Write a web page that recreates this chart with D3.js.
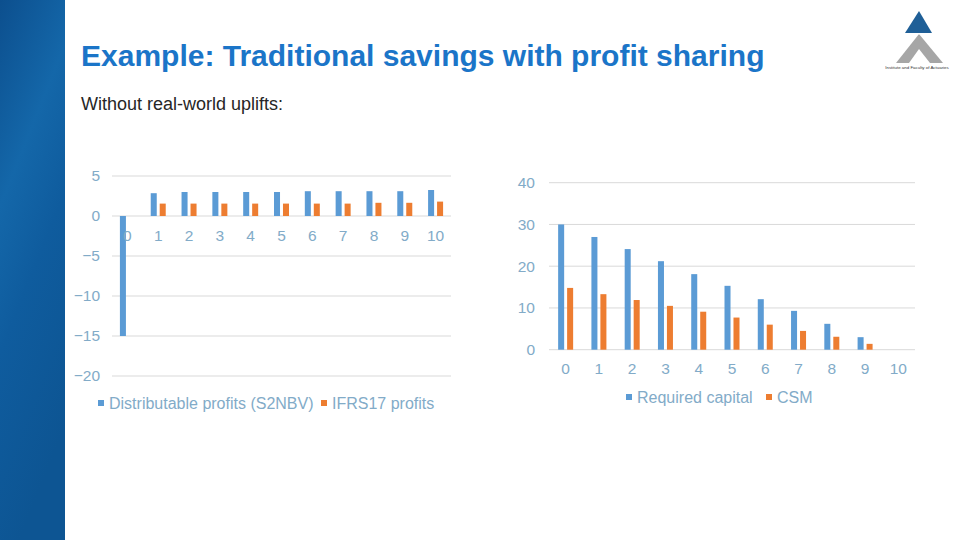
<!DOCTYPE html>
<html>
<head>
<meta charset="utf-8">
<script src="https://cdn.jsdelivr.net/npm/d3@7"></script>
<style>
  html, body { margin: 0; padding: 0; background: #fff; }
  svg { display: block; font-family: "Liberation Sans", Arial, sans-serif; }
</style>
</head>
<body>
<svg id="chart" width="960" height="540"></svg>
<script>
// ---------- data ----------
const years = ["0","1","2","3","4","5","6","7","8","9","10"];
const distributableProfits = [-15, 2.85, 3.0, 3.0, 3.0, 3.0, 3.1, 3.1, 3.1, 3.1, 3.25];
const ifrs17Profits        = [0, 1.55, 1.55, 1.55, 1.55, 1.55, 1.55, 1.55, 1.65, 1.65, 1.8];
const requiredCapital      = [30, 27, 24.1, 21.2, 18.1, 15.3, 12.1, 9.3, 6.2, 3.0, 0];
const csm                  = [14.8, 13.3, 11.9, 10.5, 9.1, 7.7, 6.0, 4.5, 3.1, 1.4, 0];
const leftTicks  = [5, 0, -5, -10, -15, -20];
const rightTicks = [0, 10, 20, 30, 40];
const leftSeriesNames  = ["Distributable profits (S2NBV)", "IFRS17 profits"];
const rightSeriesNames = ["Required capital", "CSM"];
const titleText = "Example: Traditional savings with profit sharing";
const subtitleText = "Without real-world uplifts:";

// ---------- styles ----------
const BLUE = "#5b9bd5", ORANGE = "#ed7d31", GRID = "#d9d9d9", LABEL = "#82abc8";
const svg = d3.select("#chart");

// sidebar gradient
const defs = svg.append("defs");
const grad = defs.append("linearGradient").attr("id", "side").attr("x1", 0).attr("y1", 0).attr("x2", 0.3).attr("y2", 1);
grad.append("stop").attr("offset", "0%").attr("stop-color", "#0c4f8e");
grad.append("stop").attr("offset", "35%").attr("stop-color", "#1467a9");
grad.append("stop").attr("offset", "60%").attr("stop-color", "#0f5c9e");
grad.append("stop").attr("offset", "100%").attr("stop-color", "#0d5593");
svg.append("rect").attr("x", 0).attr("y", 0).attr("width", 65).attr("height", 540).attr("fill", "url(#side)");

// title
svg.append("text").attr("x", 81).attr("y", 66).attr("font-size", 30).attr("font-weight", "bold")
  .attr("fill", "#1b75c8").text(titleText);
svg.append("text").attr("x", 81).attr("y", 110).attr("font-size", 18).attr("fill", "#262626").text(subtitleText);

// logo
const logo = svg.append("g");
logo.append("path").attr("d", "M896,63 L919,34 L943,63 Z").attr("fill", "#a6a6a6");
logo.append("path").attr("d", "M909,63 L919,49 L930,63 Z").attr("fill", "#fff");
logo.append("path").attr("d", "M899,53 A20,20 0 0 1 939,53").attr("fill", "none").attr("stroke", "#fff").attr("stroke-width", 2.5);
logo.append("path").attr("d", "M905,33 L919,11 L932,33 Z").attr("fill", "#1f5f97");
logo.append("text").attr("x", 917).attr("y", 69).attr("text-anchor", "middle").attr("font-size", 4.4)
  .attr("fill", "#333").text("Institute and Faculty of Actuaries");

// ---------- generic grouped bar chart ----------
function barChart(cfg) {
  const g = svg.append("g");
  const x = d3.scaleBand().domain(years).range([cfg.x0, cfg.x1]).paddingInner(0).paddingOuter(0);
  const y = d3.scaleLinear().domain(cfg.domain).range([cfg.yBottom, cfg.yTop]);
  const keys = [0, 1];
  const xs = d3.scaleBand().domain(keys).range([-7.5, 7.5]).paddingInner(0.33);

  // gridlines
  g.append("g").selectAll("line").data(cfg.ticks).join("line")
    .attr("x1", cfg.x0).attr("x2", cfg.x1)
    .attr("y1", d => y(d)).attr("y2", d => y(d))
    .attr("stroke", GRID).attr("stroke-width", 1);

  // y axis labels (d3 default format uses the typographic minus)
  const yAxis = d3.axisLeft(y).tickValues(cfg.ticks).tickSize(0).tickPadding(0);
  const ya = g.append("g").attr("transform", `translate(${cfg.yLabelX},0)`).call(yAxis);
  ya.select(".domain").remove();
  ya.selectAll("text").attr("font-size", 15.5).attr("fill", LABEL).attr("font-family", "Liberation Sans, Arial, sans-serif");

  // bars
  const series = [cfg.s0, cfg.s1];
  const colors = [BLUE, ORANGE];
  series.forEach((vals, si) => {
    g.append("g").selectAll("rect").data(vals).join("rect")
      .attr("x", (d, i) => x(years[i]) + x.bandwidth() / 2 + xs(si))
      .attr("width", xs.bandwidth())
      .attr("y", d => Math.min(y(d), y(0)))
      .attr("height", d => Math.abs(y(d) - y(0)))
      .attr("fill", colors[si]);
  });

  // x axis labels
  const xAxis = d3.axisBottom(x).tickSize(0).tickPadding(0);
  const xa = g.append("g").attr("transform", `translate(0,${cfg.xLabelY})`).call(xAxis);
  xa.select(".domain").remove();
  xa.selectAll("text").attr("font-size", 15.5).attr("fill", LABEL).attr("dy", "0.35em")
    .attr("font-family", "Liberation Sans, Arial, sans-serif");

  // legend
  const lg = g.append("g");
  cfg.legend.forEach((item, i) => {
    lg.append("rect").attr("x", item.x).attr("y", cfg.legendY - 3).attr("width", 6).attr("height", 6).attr("fill", colors[i]);
    lg.append("text").attr("x", item.x + 11).attr("y", cfg.legendY).attr("dy", "0.35em")
      .attr("font-size", 16).attr("fill", LABEL).text(item.name);
  });
}

barChart({
  x0: 112, x1: 451, yTop: 176, yBottom: 376, domain: [-20, 5], ticks: leftTicks,
  yLabelX: 100, xLabelY: 236, s0: distributableProfits, s1: ifrs17Profits,
  legendY: 403,
  legend: [{ x: 98, name: leftSeriesNames[0] }, { x: 321, name: leftSeriesNames[1] }]
});

barChart({
  x0: 549, x1: 915, yTop: 182.7, yBottom: 349.7, domain: [0, 40], ticks: rightTicks,
  yLabelX: 535, xLabelY: 369, s0: requiredCapital, s1: csm,
  legendY: 397,
  legend: [{ x: 626, name: rightSeriesNames[0] }, { x: 766, name: rightSeriesNames[1] }]
});
</script>
</body>
</html>
